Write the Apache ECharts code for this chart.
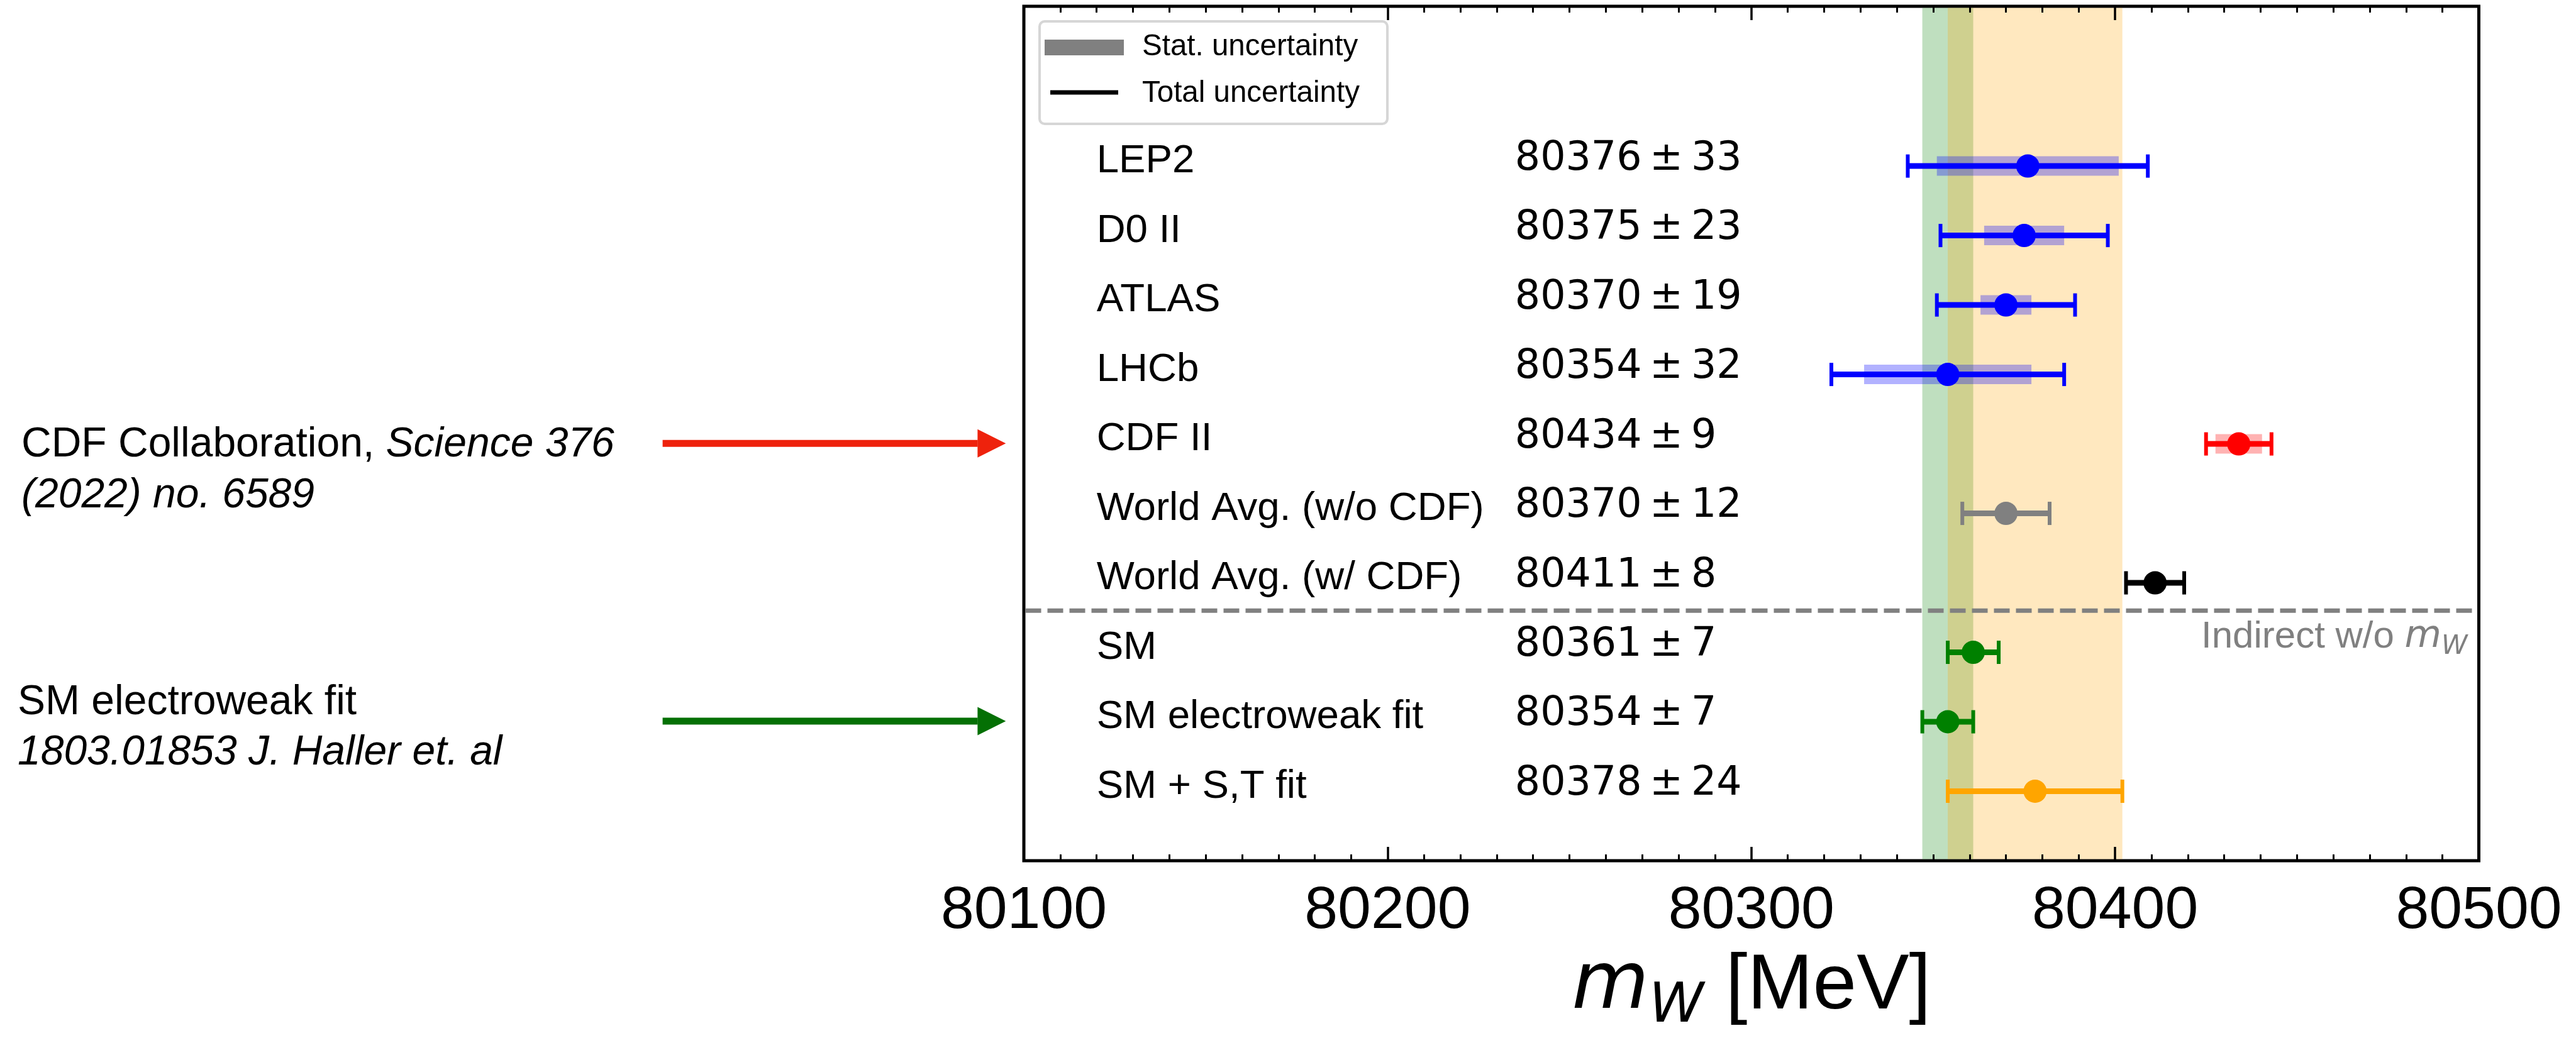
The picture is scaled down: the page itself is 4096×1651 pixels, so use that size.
<!DOCTYPE html>
<html><head><meta charset="utf-8">
<script src="https://cdn.jsdelivr.net/npm/echarts@6/dist/echarts.min.js"></script>
<style>html,body{margin:0;padding:0;background:#fff}#c{width:4096px;height:1651px}</style>
</head><body><div id="c"></div>
<script>
// ---- data ----
const names = ['LEP2', 'D0 II', 'ATLAS', 'LHCb', 'CDF II', 'World Avg. (w/o CDF)', 'World Avg. (w/ CDF)', 'SM', 'SM electroweak fit', 'SM + S,T fit'];
const central = [80376, 80375, 80370, 80354, 80434, 80370, 80411, 80361, 80354, 80378];
const totalErr = [33, 23, 19, 32, 9, 12, 8, 7, 7, 24];
const statErr = [25, 11, 7, 23, 6.4, null, null, null, null, null];
const xTicks = [80100, 80200, 80300, 80400, 80500];
const separatorRow = 6.4;          // dashed line between measurements and indirect
const bandRows = [8, 9];           // rows whose total range is drawn as a vertical band

// ---- styles ----
const rowColors = ['#0000ff', '#0000ff', '#0000ff', '#0000ff', '#ff0000', '#808080', '#000000', '#008000', '#008000', '#ffa500'];
const bandColors = ['#008000', '#ffa500'];
const SANS = '"Liberation Sans", Arial, Helvetica, sans-serif';
const DEJAVU = '"DejaVu Sans", sans-serif';
const nameXValue = 80120;   // axis position of the row names column
const valueXValue = 80235;  // axis position of the value column

const chart = echarts.init(document.getElementById('c'), null, {renderer: 'canvas'});

const xCommon = {
  type: 'value', min: xTicks[0], max: xTicks[xTicks.length - 1], interval: xTicks[1] - xTicks[0],
  axisLine: {show: false, onZero: false},
  axisTick: {show: true, inside: true, length: 22, lineStyle: {color: '#000', width: 3.5}},
  minorTick: {show: true, splitNumber: 10, length: 10, lineStyle: {color: '#000', width: 3}},
  splitLine: {show: false}, minorSplitLine: {show: false}, z: 10
};

const option = {
  animation: false,
  backgroundColor: '#fff',
  grid: {left: 1628, top: 10, width: 2313.5, height: 1372, show: true, borderColor: '#000', borderWidth: 5, backgroundColor: 'transparent'},
  xAxis: [
    Object.assign({}, xCommon, {
      position: 'bottom',
      axisLabel: {show: true, margin: 33, fontSize: 95, fontFamily: SANS, color: '#000',
        formatter: v => String(v)},
      name: '{m|m}{w|W}{u| [MeV]}', nameLocation: 'middle', nameGap: 125,
      nameTextStyle: {rich: {
        m: {fontFamily: DEJAVU, fontStyle: 'italic', fontSize: 126, color: '#000'},
        w: {fontFamily: DEJAVU, fontStyle: 'italic', fontSize: 88, color: '#000', padding: [64, 0, 0, 0]},
        u: {fontFamily: SANS, fontSize: 125, color: '#000'}
      }}
    }),
    Object.assign({}, xCommon, {position: 'top', axisLabel: {show: false}})
  ],
  yAxis: {type: 'value', inverse: true, min: -2.3, max: 10, show: false},
  series: [
    { // vertical bands
      type: 'custom', z: 1,
      data: bandRows.map(r => [central[r] - totalErr[r], central[r] + totalErr[r], 0]),
      encode: {x: [0, 1], y: 2},
      renderItem(params, api) {
        const cs = params.coordSys;
        const p0 = api.coord([api.value(0), 0]);
        const p1 = api.coord([api.value(1), 0]);
        return {type: 'rect', shape: {x: p0[0], y: cs.y + 2.5, width: p1[0] - p0[0], height: cs.height - 5},
          style: {fill: bandColors[params.dataIndex], opacity: 0.25}};
      }
    },
    { // separator + indirect label
      type: 'custom', z: 3,
      data: [[xTicks[0], separatorRow]],
      renderItem(params, api) {
        const cs = params.coordSys;
        const p = api.coord([api.value(0), api.value(1)]);
        return {type: 'group', children: [
          {type: 'line', shape: {x1: cs.x + 2.5, y1: p[1], x2: cs.x + cs.width - 2.5, y2: p[1]},
            style: {stroke: '#808080', lineWidth: 7, lineDash: [25, 10]}},
          {type: 'text', x: cs.x + cs.width - 18, y: p[1] + 42,
            style: {text: '{n|Indirect w/o }{m|m}{w|W}', align: 'right', verticalAlign: 'middle',
              rich: {
                n: {fontFamily: SANS, fontSize: 60, fill: '#808080'},
                m: {fontFamily: DEJAVU, fontStyle: 'italic', fontSize: 60, fill: '#808080'},
                w: {fontFamily: DEJAVU, fontStyle: 'italic', fontSize: 42, fill: '#808080', padding: [32, 0, 0, 0]}
              }}}
        ]};
      }
    },
    { // statistical uncertainty boxes
      type: 'custom', z: 4,
      data: statErr.map((s, i) => s == null ? null : [central[i], i, s]).filter(d => d),
      renderItem(params, api) {
        const c = api.value(0), row = api.value(1), s = api.value(2);
        const a = api.coord([c - s, row]), b = api.coord([c + s, row]);
        return {type: 'rect', shape: {x: a[0], y: a[1] - 15.5, width: b[0] - a[0], height: 31},
          style: {fill: rowColors[row], opacity: 0.3}};
      }
    },
    { // total uncertainty error bars
      type: 'custom', z: 5,
      data: central.map((c, i) => [c, i, totalErr[i]]),
      renderItem(params, api) {
        const c = api.value(0), row = api.value(1), e = api.value(2);
        const a = api.coord([c - e, row]), b = api.coord([c + e, row]);
        const col = rowColors[row];
        return {type: 'group', children: [
          {type: 'line', shape: {x1: a[0], y1: a[1], x2: b[0], y2: b[1]}, style: {stroke: col, lineWidth: 9}},
          {type: 'line', shape: {x1: a[0], y1: a[1] - 18.5, x2: a[0], y2: a[1] + 18.5}, style: {stroke: col, lineWidth: 6}},
          {type: 'line', shape: {x1: b[0], y1: b[1] - 18.5, x2: b[0], y2: b[1] + 18.5}, style: {stroke: col, lineWidth: 6}}
        ]};
      }
    },
    { // central values
      type: 'scatter', z: 6, symbol: 'circle', symbolSize: 37,
      data: central.map((c, i) => [c, i]),
      itemStyle: {color: p => rowColors[p.dataIndex], opacity: 1}
    },
    { // row names and values
      type: 'custom', z: 7,
      data: central.map((c, i) => [c, i]),
      renderItem(params, api) {
        const i = params.dataIndex;
        const pn = api.coord([nameXValue, i]);
        const pv = api.coord([valueXValue, i]);
        return {type: 'group', children: [
          {type: 'text', x: pn[0], y: pn[1] - 7.5,
            style: {text: names[i], fill: '#000', font: '63.6px ' + SANS, align: 'left', verticalAlign: 'middle'}},
          {type: 'text', x: pv[0], y: pv[1] - 11,
            style: {text: central[i] + '\u2009\u00b1\u2009' + totalErr[i], fill: '#000', font: '63.4px ' + DEJAVU, align: 'left', verticalAlign: 'middle'}}
        ]};
      }
    }
  ],
  graphic: [
    // legend
    {type: 'rect', z: 100, shape: {x: 1653, y: 34, width: 553, height: 163, r: 8},
      style: {fill: 'rgba(255,255,255,0.8)', stroke: '#d6d6d6', lineWidth: 4}},
    {type: 'rect', z: 101, shape: {x: 1661, y: 63, width: 126, height: 25}, style: {fill: '#808080'}},
    {type: 'line', z: 101, shape: {x1: 1670, y1: 147, x2: 1778, y2: 147}, style: {stroke: '#000', lineWidth: 7}},
    {type: 'text', z: 101, x: 1816, y: 75, style: {text: 'Stat. uncertainty', font: '47.5px ' + SANS, fill: '#000', align: 'left', verticalAlign: 'middle'}},
    {type: 'text', z: 101, x: 1816, y: 149, style: {text: 'Total uncertainty', font: '47.5px ' + SANS, fill: '#000', align: 'left', verticalAlign: 'middle'}},
    // left annotations
    {type: 'text', x: 34, y: 708, style: {text: 'CDF Collaboration, {i|Science 376}', fontFamily: SANS, fontSize: 66, fill: '#000', align: 'left', verticalAlign: 'middle',
      rich: {i: {fontFamily: SANS, fontSize: 66, fontStyle: 'italic', fill: '#000'}}}},
    {type: 'text', x: 34, y: 789, style: {text: '(2022) no. 6589', fontFamily: SANS, fontSize: 66, fontStyle: 'italic', fill: '#000', align: 'left', verticalAlign: 'middle'}},
    {type: 'text', x: 28, y: 1118, style: {text: 'SM electroweak fit', fontFamily: SANS, fontSize: 66, fill: '#000', align: 'left', verticalAlign: 'middle'}},
    {type: 'text', x: 28, y: 1198, style: {text: '1803.01853 J. Haller et. al', fontFamily: SANS, fontSize: 66, fontStyle: 'italic', fill: '#000', align: 'left', verticalAlign: 'middle'}},
    // arrows
    {type: 'rect', shape: {x: 1053.6, y: 699.8, width: 501, height: 11}, style: {fill: '#ee220c'}},
    {type: 'polygon', shape: {points: [[1554.4, 682.8], [1599.3, 705.3], [1554.4, 727.8]]}, style: {fill: '#ee220c'}},
    {type: 'rect', shape: {x: 1053.6, y: 1141.5, width: 501, height: 11}, style: {fill: '#047004'}},
    {type: 'polygon', shape: {points: [[1554.4, 1124.5], [1599.3, 1147], [1554.4, 1169.5]]}, style: {fill: '#047004'}}
  ]
};
chart.setOption(option);
</script>
</body></html>
